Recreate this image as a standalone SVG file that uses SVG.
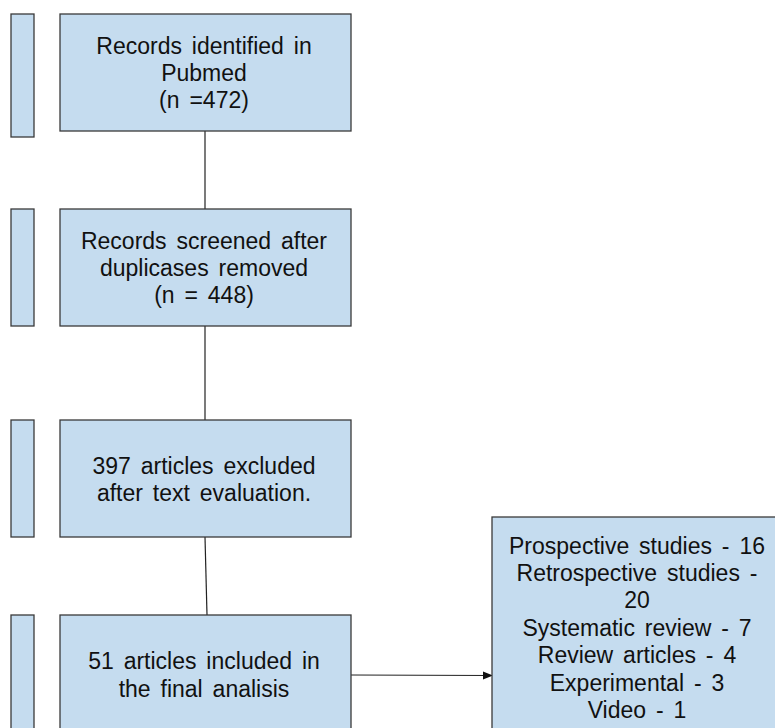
<svg xmlns="http://www.w3.org/2000/svg" width="775" height="728" viewBox="0 0 775 728">
<style>
.box{fill:#c5dcef;stroke:#3a3a3a;stroke-width:1.3}
.t{font-family:"Liberation Sans",Arial,sans-serif;font-size:23px;word-spacing:3.5px;fill:#111;text-anchor:middle}
.c{stroke:#222;stroke-width:1.2;fill:none}
</style>
<defs>
<marker id="ah" markerWidth="10" markerHeight="10" refX="9" refY="5" orient="auto" markerUnits="userSpaceOnUse">
<path d="M0,1 L10,5 L0,9 Z" fill="#111"/>
</marker>
</defs>
<rect width="775" height="728" fill="#fff"/>
<g id="bar1"><rect class="box" x="11" y="14" width="23" height="123"/></g>
<g id="bar2"><rect class="box" x="11" y="209" width="23" height="117"/></g>
<g id="bar3"><rect class="box" x="11" y="420" width="23" height="117"/></g>
<g id="bar4"><rect class="box" x="11" y="615" width="23" height="120"/></g>
<g id="connectors">
<line class="c" x1="205" y1="131" x2="205" y2="209"/>
<line class="c" x1="205" y1="326" x2="205" y2="420"/>
<line class="c" x1="205" y1="537" x2="207" y2="615"/>
<line class="c" x1="351" y1="675" x2="492" y2="675.5" marker-end="url(#ah)"/>
</g>
<g id="n1"><rect class="box" x="60" y="14" width="291" height="117"/>
<text class="t" x="204" y="54">Records identified in</text>
<text class="t" x="204" y="81">Pubmed</text>
<text class="t" x="204" y="108">(n =472)</text></g>
<g id="n2"><rect class="box" x="60" y="209" width="291" height="117"/>
<text class="t" x="204" y="249">Records screened after</text>
<text class="t" x="204" y="276">duplicases removed</text>
<text class="t" x="204" y="303">(n = 448)</text></g>
<g id="n3"><rect class="box" x="60" y="420" width="291" height="117"/>
<text class="t" x="204" y="474">397 articles excluded</text>
<text class="t" x="204" y="501">after text evaluation.</text></g>
<g id="n4"><rect class="box" x="60" y="615" width="291" height="120"/>
<text class="t" x="204" y="669">51 articles included in</text>
<text class="t" x="204" y="697">the final analisis</text></g>
<g id="n5"><rect class="box" x="492" y="517" width="290" height="220"/>
<text class="t" x="637" y="554">Prospective studies - 16</text>
<text class="t" x="637" y="581">Retrospective studies -</text>
<text class="t" x="637" y="608">20</text>
<text class="t" x="637" y="636">Systematic review - 7</text>
<text class="t" x="637" y="663">Review articles - 4</text>
<text class="t" x="637" y="691">Experimental - 3</text>
<text class="t" x="637" y="718">Video - 1</text></g>
</svg>
